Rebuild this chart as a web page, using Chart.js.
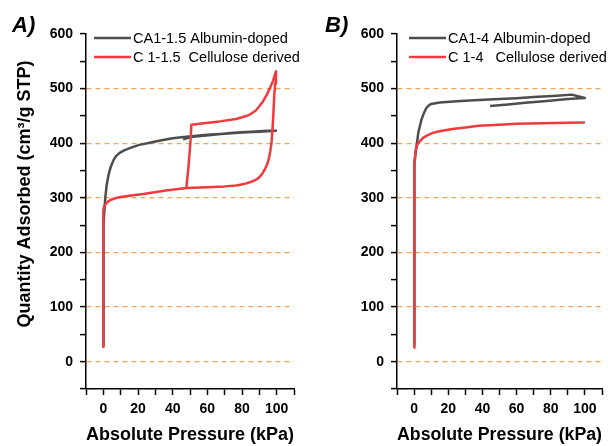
<!DOCTYPE html>
<html>
<head>
<meta charset="utf-8">
<script src="https://cdn.jsdelivr.net/npm/chart.js@4/dist/chart.umd.min.js"></script>
<style>
  body { margin: 0; background: #fff; }
  #wrap { position: relative; width: 608px; height: 446px; }
  #wrap canvas { position: absolute; top: 0; }
</style>
</head>
<body>
<div id="wrap">
  <canvas id="chartA" width="304" height="446" style="left:0"></canvas>
  <canvas id="chartB" width="304" height="446" style="left:304px"></canvas>
</div>
<script>
// Panel A - CA1-1.5 Albumin-doped (adsorption then desorption)
const caA_x = [0, 0, 0.3, 0.7, 1.2, 2, 3, 4.4, 6, 7.5, 9.2, 12, 16, 20.7, 26.8, 30, 36, 40, 45, 50.8, 60, 70, 80, 90, 99.6,
  95, 85, 75, 65, 55, 50, 46];
const caA_y = [30, 200, 255, 280, 303, 325, 342, 358, 370, 377, 382, 387, 392, 397, 401, 403, 407, 409, 411, 413, 415.5, 417.5, 419.5, 421, 423,
  423, 421, 419, 416, 413, 411, 407];

// Panel A - C 1-1.5 Cellulose derived (bottom branch, up at ~100 kPa, back along the top branch)
const cA_x = [0, 0, 0, 0.5, 1.9, 4, 7.7, 15, 23, 36, 47.9, 60, 70, 76.7, 79, 82, 85, 87, 89, 90.5, 92, 93, 94, 95, 95.8, 96.3, 97, 97.7, 98.2, 98.7, 99.2, 99.6,
  98, 96, 94, 92, 90, 88, 84.3, 80, 76.7, 67.1, 58, 50.8, 50.2, 49.2, 47.9];
const cA_y = [25, 200, 278, 285, 291, 296, 300, 304, 307, 313.5, 318, 319.5, 321, 322.5, 324, 326, 329, 331.5, 335, 339.5, 345.5, 351, 358, 366, 376, 385, 400, 431, 460, 492, 510, 532,
  515, 500, 487, 476, 467.6, 460, 452, 447.5, 444.5, 440, 436.5, 434, 400, 360, 318];

// Panel B - CA1-4 Albumin-doped
const caB_x = [0, 0, 0.4, 1.4, 2.5, 4.3, 5.7, 7.1, 8.5, 10, 15, 25, 37.8, 50, 60, 70, 83.7, 92.3, 96, 100,
  90, 76, 65, 55, 44.5];
const caB_y = [30, 320, 364, 394, 420, 443, 455, 464, 469, 472, 474.5, 477, 479, 481, 482.5, 484.5, 487, 489, 486, 483,
  481, 477, 474, 471, 468];

// Panel B - C 1-4 Cellulose derived
const cB_x = [0, 0, 0.3, 0.8, 1.4, 2.2, 3.3, 5, 7.5, 10.9, 15, 22.4, 30, 37.8, 50, 60, 75, 90, 100];
const cB_y = [25, 300, 360, 385, 394, 399, 403.5, 409, 414, 419, 422, 426, 429, 432, 434, 435.5, 436.5, 437.5, 438];

const xTicks = [0, 20, 40, 60, 80, 100];
const yTicks = [0, 100, 200, 300, 400, 500, 600];

const FONT = "'Liberation Sans', Arial, sans-serif";
const GRAY = "#4d4d4d";
const RED = "#f23a3e";
const ORANGE = "#f5a455";

function pts(xs, ys) {
  return xs.map((x, i) => ({ x: x, y: ys[i] }));
}

// legend, panel letter and (optional) y title drawn on top of the chart
function decorPlugin(opts) {
  return {
    id: "decor",
    afterDraw(chart) {
      const ctx = chart.ctx;
      ctx.save();
      // panel letter
      ctx.fillStyle = "#000";
      ctx.font = "italic bold 22px " + FONT;
      ctx.textBaseline = "alphabetic";
      ctx.textAlign = "left";
      ctx.fillText(opts.letter, opts.letterX, 32);
      // legend
      ctx.font = "14.5px " + FONT;
      ctx.textBaseline = "middle";
      opts.legend.forEach((item, i) => {
        const y = 38 + i * 19;
        ctx.strokeStyle = item.color;
        ctx.lineWidth = 2.5;
        ctx.beginPath();
        ctx.moveTo(opts.legendX, y);
        ctx.lineTo(opts.legendX + 37, y);
        ctx.stroke();
        ctx.fillStyle = "#000";
        ctx.fillText(item.label, opts.legendX + 39, y + 1);
      });
      // y title
      if (opts.yTitle) {
        ctx.translate(25, 194);
        ctx.rotate(-Math.PI / 2);
        ctx.font = "bold 18px " + FONT;
        ctx.textAlign = "center";
        ctx.fillText(opts.yTitle, 0, 0);
      }
      ctx.restore();
    },
  };
}

function makeChart(id, series, axisWidth, padRight, decor) {
  const ctx = document.getElementById(id).getContext("2d");
  return new Chart(ctx, {
    type: "scatter",
    data: {
      datasets: series.map((s) => ({
        label: s.label,
        data: s.data,
        showLine: true,
        borderColor: s.color,
        backgroundColor: s.color,
        borderWidth: 2.5,
        pointRadius: 0,
        tension: 0,
        borderJoinStyle: "round",
        order: s.order,
      })),
    },
    options: {
      responsive: false,
      animation: false,
      devicePixelRatio: 1,
      layout: { padding: { top: 34, right: padRight, bottom: 0, left: 0 } },
      plugins: { legend: { display: false }, tooltip: { enabled: false } },
      scales: {
        x: {
          type: "linear",
          min: -10,
          max: 110,
          afterFit: (s) => { s.height = 57; },
          ticks: {
            stepSize: 10,
            autoSkip: false,
            maxRotation: 0,
            padding: 6,
            color: "#000",
            font: { family: FONT, size: 14, weight: "bold" },
            callback: (v) => (xTicks.includes(v) ? v : ""),
          },
          grid: {
            drawOnChartArea: false,
            tickColor: "#000",
            tickLength: 6,
            tickWidth: 1.5,
          },
          border: { color: "#000", width: 1.5 },
          title: {
            display: true,
            text: "Absolute Pressure (kPa)",
            color: "#000",
            font: { family: FONT, size: 18, weight: "bold" },
            padding: { top: 0, bottom: 0 },
          },
        },
        y: {
          type: "linear",
          min: -50,
          max: 600,
          afterFit: (s) => { s.width = axisWidth; },
          ticks: {
            stepSize: 50,
            autoSkip: false,
            padding: 7,
            color: "#000",
            font: { family: FONT, size: 14, weight: "bold" },
            callback: (v) => (yTicks.includes(v) ? v : ""),
          },
          grid: {
            color: (c) =>
              c.tick && yTicks.includes(c.tick.value) && c.tick.value < 600 ? ORANGE : "rgba(0,0,0,0)",
            lineWidth: 1.2,
            tickColor: "#000",
            tickLength: 6,
            tickWidth: 1.5,
          },
          border: { color: "#000", width: 1.5, dash: [5, 4] },
        },
      },
    },
    plugins: [decorPlugin(decor)],
  });
}

makeChart(
  "chartA",
  [
    { label: "CA1-1.5 Albumin-doped", data: pts(caA_x, caA_y), color: GRAY, order: 2 },
    { label: "C 1-1.5  Cellulose derived", data: pts(cA_x, cA_y), color: RED, order: 1 },
  ],
  86,
  10,
  {
    letter: "A)",
    letterX: 12,
    legendX: 94,
    yTitle: "Quantity Adsorbed (cm³/g STP)",
    legend: [
      { label: "CA1-1.5 Albumin-doped", color: GRAY },
      { label: "C 1-1.5  Cellulose derived", color: RED },
    ],
  }
);

makeChart(
  "chartB",
  [
    { label: "CA1-4 Albumin-doped", data: pts(caB_x, caB_y), color: GRAY, order: 2 },
    { label: "C 1-4   Cellulose derived", data: pts(cB_x, cB_y), color: RED, order: 1 },
  ],
  93,
  2,
  {
    letter: "B)",
    letterX: 21,
    legendX: 105,
    legend: [
      { label: "CA1-4 Albumin-doped", color: GRAY },
      { label: "C 1-4   Cellulose derived", color: RED },
    ],
  }
);
</script>
</body>
</html>
